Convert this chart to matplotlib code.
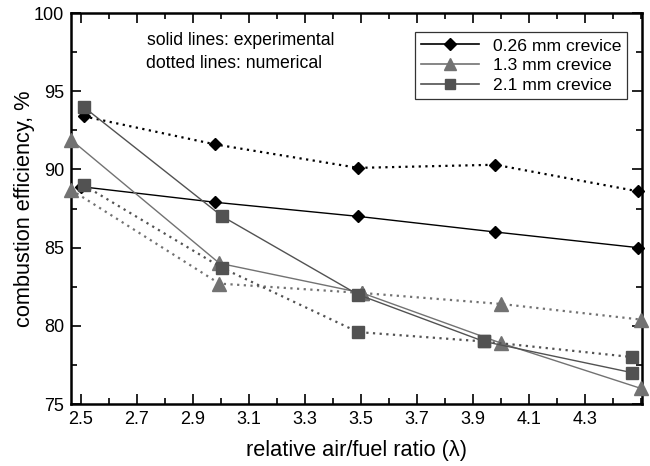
import matplotlib
matplotlib.use("Agg")
import matplotlib.pyplot as plt
from matplotlib.ticker import MultipleLocator
from matplotlib.lines import Line2D

plt.rcParams['font.family'] = ['Liberation Sans', 'DejaVu Sans']

# 0.26 mm crevice
x_026_exp = [2.5, 2.98, 3.49, 3.98, 4.49]
y_026_exp = [88.9, 87.9, 87.0, 86.0, 85.0]
x_026_num = [2.51, 2.98, 3.49, 3.98, 4.49]
y_026_num = [93.4, 91.6, 90.1, 90.3, 88.6]

# 1.3 mm crevice
x_13_exp = [2.465, 2.995, 3.505, 4.0, 4.5]
y_13_exp = [91.9, 84.0, 82.1, 78.9, 76.0]
x_13_num = [2.465, 2.995, 3.505, 4.0, 4.5]
y_13_num = [88.7, 82.7, 82.1, 81.4, 80.4]

# 2.1 mm crevice
x_21_exp = [2.51, 3.005, 3.49, 3.94, 4.47]
y_21_exp = [94.0, 87.0, 82.0, 79.0, 77.0]
x_21_num = [2.51, 3.005, 3.49, 3.94, 4.47]
y_21_num = [89.0, 83.7, 79.6, 79.0, 78.0]

legend_labels = ['0.26 mm crevice', '1.3 mm crevice', '2.1 mm crevice']
x_ticks = [2.5, 2.7, 2.9, 3.1, 3.3, 3.5, 3.7, 3.9, 4.1, 4.3]
y_ticks = [75, 80, 85, 90, 95, 100]

c_d = '#000000'
c_t = '#727272'
c_s = '#525252'

fig = plt.figure(figsize=(6.5, 4.66), dpi=100)
ax = fig.add_axes([0.1092, 0.133, 0.878, 0.839])

kw_d = dict(marker='D', markersize=6.5, color=c_d, markerfacecolor=c_d, markeredgecolor=c_d, clip_on=False, zorder=3)
kw_t = dict(marker='^', markersize=9.5, color=c_t, markerfacecolor=c_t, markeredgecolor=c_t, clip_on=False, zorder=3)
kw_s = dict(marker='s', markersize=8.5, color=c_s, markerfacecolor=c_s, markeredgecolor=c_s, clip_on=False, zorder=3)

ax.plot(x_026_exp, y_026_exp, linestyle='-', linewidth=1.0, **kw_d)
ax.plot(x_026_num, y_026_num, linestyle=(0, (1, 2)), linewidth=1.6, **kw_d)
ax.plot(x_13_exp, y_13_exp, linestyle='-', linewidth=1.0, **kw_t)
ax.plot(x_13_num, y_13_num, linestyle=(0, (1, 2)), linewidth=1.6, **kw_t)
ax.plot(x_21_exp, y_21_exp, linestyle='-', linewidth=1.0, **kw_s)
ax.plot(x_21_num, y_21_num, linestyle=(0, (1, 2)), linewidth=1.6, **kw_s)

ax.set_xlim(2.465, 4.503)
ax.set_ylim(75, 100)
ax.set_xticks(x_ticks)
ax.set_xticklabels([f"{v:.1f}" for v in x_ticks])
ax.set_yticks(y_ticks)
ax.set_yticklabels([str(v) for v in y_ticks])
ax.xaxis.set_minor_locator(MultipleLocator(0.1))
ax.yaxis.set_minor_locator(MultipleLocator(2.5))
ax.tick_params(which='both', direction='in', top=True, right=True, labelsize=13, width=1.2)
ax.tick_params(which='major', length=7, pad=5)
ax.tick_params(which='minor', length=4)
for s in ax.spines.values():
    s.set_linewidth(1.8)

ax.set_xlabel('relative air/fuel ratio (λ)', fontsize=15.7, labelpad=9)
ax.set_ylabel('combustion efficiency, %', fontsize=15.7, labelpad=-1)

ax.text(0.133, 0.929, 'solid lines: experimental', transform=ax.transAxes, fontsize=12.7, ha='left', va='center')
ax.text(0.131, 0.872, 'dotted lines: numerical', transform=ax.transAxes, fontsize=12.7, ha='left', va='center')

handles = [
    Line2D([], [], linestyle='-', linewidth=1.2, marker='D', markersize=6.5, color=c_d),
    Line2D([], [], linestyle='-', linewidth=1.2, marker='^', markersize=8.5, color=c_t),
    Line2D([], [], linestyle='-', linewidth=1.2, marker='s', markersize=7.5, color=c_s),
]
leg = ax.legend(handles, legend_labels, loc='upper right', bbox_to_anchor=(0.975, 0.951),
                fontsize=12.6, frameon=True, fancybox=False, edgecolor='black',
                handlelength=3.3, handletextpad=0.8, borderpad=0.35, labelspacing=0.25,
                borderaxespad=0.0)
leg.get_frame().set_linewidth(0.9)

fig.savefig('out.png', dpi=100)
